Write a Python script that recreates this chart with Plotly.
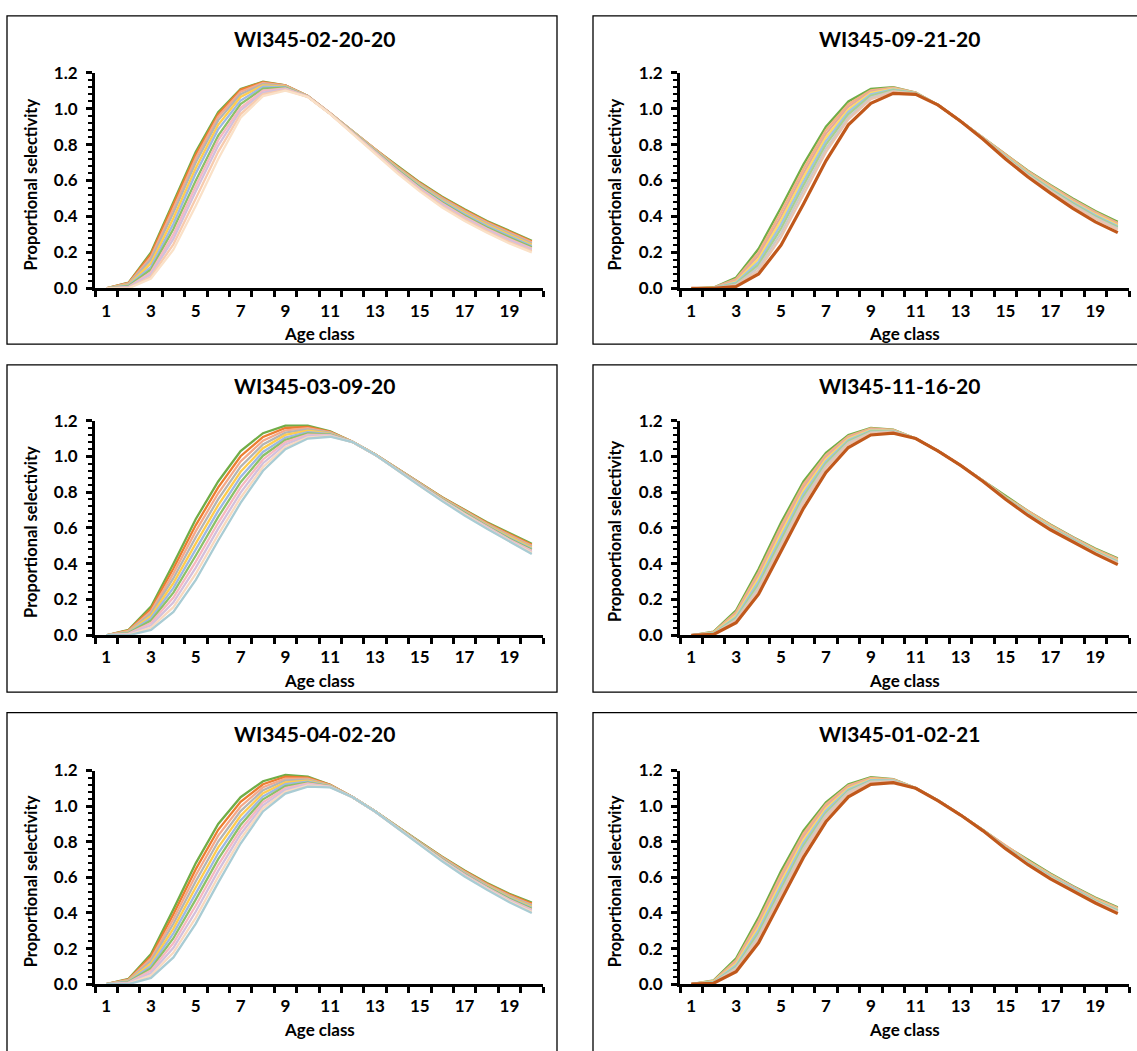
import plotly.graph_objects as go

W, H = 1137, 1051

AGES = list(range(1, 21))
XTICK_VALS = [1, 3, 5, 7, 9, 11, 13, 15, 17, 19]
XTICK_TEXT = ["1", "3", "5", "7", "9", "11", "13", "15", "17", "19"]

PANEL_TITLES = ["WI345-02-20-20", "WI345-09-21-20", "WI345-03-09-20",
                "WI345-11-16-20", "WI345-04-02-20", "WI345-01-02-21"]
Y_TITLES = ["Proportional selectivity", "Proportional selectivity", "Proportional selectivity",
            "Propoortional selectivity", "Proportional selectivity", "Proportional selectivity"]
X_TITLE = "Age class"

# ---- series values (top line of each fan first) ----
P1_LINES = [
    [0, .032, .200, .480, .760, .980, 1.110, 1.150, 1.130, 1.070, .975, .875, .775, .680, .590, .510, .440, .375, .320, .265],
    [0, .030, .190, .465, .745, .970, 1.105, 1.148, 1.130, 1.070, .975, .874, .773, .677, .587, .506, .436, .371, .316, .261],
    [0, .027, .175, .445, .725, .955, 1.095, 1.143, 1.128, 1.069, .974, .873, .771, .674, .583, .502, .431, .366, .311, .256],
    [0, .024, .160, .420, .700, .935, 1.080, 1.137, 1.126, 1.069, .974, .872, .769, .671, .579, .497, .425, .360, .305, .250],
    [0, .020, .140, .390, .670, .910, 1.065, 1.130, 1.123, 1.068, .973, .870, .767, .667, .574, .491, .419, .354, .298, .243],
    [0, .016, .120, .360, .640, .885, 1.045, 1.122, 1.120, 1.068, .973, .869, .764, .663, .569, .485, .412, .347, .291, .236],
    [0, .012, .105, .330, .600, .850, 1.025, 1.112, 1.117, 1.067, .972, .867, .761, .659, .563, .478, .404, .339, .283, .228],
    [0, .008, .090, .300, .570, .825, 1.005, 1.100, 1.113, 1.067, .972, .866, .758, .655, .558, .472, .397, .332, .275, .221],
    [0, .005, .078, .275, .540, .795, .990, 1.090, 1.108, 1.066, .971, .864, .754, .650, .552, .465, .390, .325, .267, .214],
    [0, .002, .065, .245, .500, .760, .970, 1.080, 1.104, 1.066, .971, .862, .750, .645, .546, .457, .383, .317, .258, .207],
    [0, .000, .055, .215, .460, .720, .950, 1.070, 1.100, 1.065, .970, .860, .745, .640, .540, .450, .375, .310, .250, .200],
]
P2_LINES = [
    [0, .005, .060, .220, .450, .690, .900, 1.040, 1.110, 1.120, 1.090, 1.020, .930, .840, .745, .655, .575, .500, .430, .370],
    [0, .004, .052, .200, .425, .665, .880, 1.025, 1.102, 1.117, 1.089, 1.020, .930, .839, .743, .652, .571, .495, .425, .364],
    [0, .003, .045, .182, .400, .640, .860, 1.010, 1.095, 1.114, 1.088, 1.020, .930, .838, .740, .648, .566, .490, .419, .358],
    [0, .002, .038, .165, .378, .618, .840, .995, 1.088, 1.111, 1.087, 1.020, .930, .837, .737, .644, .561, .484, .413, .352],
    [0, .002, .032, .148, .355, .595, .820, .982, 1.080, 1.107, 1.086, 1.020, .930, .836, .734, .640, .556, .478, .407, .346],
    [0, .001, .026, .132, .332, .572, .800, .968, 1.072, 1.103, 1.085, 1.020, .930, .835, .731, .636, .551, .472, .400, .340],
    [0, .001, .021, .116, .308, .548, .778, .952, 1.062, 1.098, 1.083, 1.020, .930, .834, .728, .631, .545, .465, .393, .333],
    [0, .000, .016, .100, .285, .525, .758, .940, 1.053, 1.094, 1.082, 1.020, .930, .833, .726, .627, .540, .459, .387, .327],
    [0, .000, .010, .080, .240, .470, .710, .910, 1.030, 1.085, 1.080, 1.020, .930, .830, .720, .620, .530, .445, .370, .310],
]
P3_LINES = [
    [0, .030, .160, .400, .650, .860, 1.030, 1.130, 1.172, 1.172, 1.140, 1.082, 1.012, .932, .852, .772, .702, .632, .572, .512],
    [0, .027, .147, .373, .616, .827, 1.001, 1.109, 1.159, 1.165, 1.137, 1.082, 1.012, .931, .850, .770, .699, .628, .566, .506],
    [0, .024, .134, .346, .582, .794, .972, 1.088, 1.146, 1.158, 1.134, 1.082, 1.012, .930, .849, .768, .696, .624, .561, .500],
    [0, .021, .121, .319, .548, .761, .943, 1.067, 1.133, 1.151, 1.131, 1.081, 1.011, .928, .847, .766, .692, .620, .555, .495],
    [0, .018, .108, .292, .514, .728, .914, 1.046, 1.120, 1.144, 1.128, 1.081, 1.011, .927, .846, .763, .689, .617, .550, .489],
    [0, .015, .095, .265, .480, .695, .885, 1.025, 1.106, 1.136, 1.125, 1.081, 1.011, .926, .844, .761, .686, .613, .544, .483],
    [0, .012, .082, .238, .446, .662, .856, 1.004, 1.093, 1.129, 1.122, 1.080, 1.011, .925, .842, .759, .683, .610, .539, .478],
    [0, .009, .069, .211, .412, .629, .827, .983, 1.080, 1.122, 1.119, 1.080, 1.010, .924, .840, .757, .680, .606, .534, .472],
    [0, .006, .056, .184, .378, .596, .798, .962, 1.067, 1.115, 1.116, 1.080, 1.010, .922, .838, .755, .676, .602, .530, .466],
    [0, .003, .043, .157, .344, .563, .769, .941, 1.053, 1.107, 1.113, 1.080, 1.010, .921, .836, .752, .673, .598, .527, .461],
    [0, .000, .030, .130, .310, .530, .740, .920, 1.040, 1.100, 1.110, 1.080, 1.010, .920, .835, .750, .670, .595, .525, .455],
]
P4_LINES = [
    [0, .020, .140, .370, .630, .860, 1.020, 1.120, 1.160, 1.150, 1.100, 1.030, .950, .865, .775, .695, .620, .550, .485, .430],
    [0, .018, .130, .352, .610, .843, 1.008, 1.113, 1.156, 1.148, 1.100, 1.030, .950, .864, .773, .692, .616, .546, .481, .426],
    [0, .016, .121, .335, .590, .826, .996, 1.106, 1.152, 1.146, 1.100, 1.030, .950, .864, .771, .689, .613, .543, .477, .422],
    [0, .014, .112, .318, .570, .809, .984, 1.099, 1.148, 1.144, 1.100, 1.030, .950, .863, .769, .686, .610, .539, .474, .418],
    [0, .012, .103, .301, .550, .792, .972, 1.092, 1.144, 1.142, 1.100, 1.030, .950, .863, .768, .683, .606, .536, .470, .414],
    [0, .010, .095, .285, .531, .775, .960, 1.085, 1.140, 1.140, 1.100, 1.030, .950, .862, .766, .680, .603, .532, .467, .410],
    [0, .008, .087, .268, .512, .758, .948, 1.077, 1.135, 1.138, 1.100, 1.030, .950, .862, .764, .677, .600, .529, .463, .406],
    [0, .007, .080, .252, .495, .740, .935, 1.068, 1.130, 1.136, 1.100, 1.030, .950, .861, .762, .674, .596, .525, .460, .402],
    [0, .005, .070, .230, .470, .710, .910, 1.050, 1.120, 1.130, 1.100, 1.030, .950, .860, .760, .670, .590, .520, .455, .395],
]
P5_LINES = [
    [0, .030, .170, .420, .680, .900, 1.050, 1.140, 1.175, 1.165, 1.120, 1.051, .972, .884, .800, .716, .638, .568, .508, .458],
    [0, .027, .157, .393, .646, .867, 1.024, 1.123, 1.165, 1.160, 1.119, 1.051, .972, .883, .798, .713, .635, .564, .503, .452],
    [0, .024, .143, .366, .612, .834, .998, 1.106, 1.154, 1.154, 1.117, 1.051, .971, .882, .796, .711, .631, .560, .498, .446],
    [0, .021, .130, .339, .578, .801, .972, 1.089, 1.144, 1.149, 1.116, 1.051, .971, .881, .794, .708, .628, .556, .493, .441],
    [0, .018, .116, .312, .544, .768, .946, 1.072, 1.133, 1.143, 1.114, 1.050, .971, .880, .792, .705, .625, .552, .488, .435],
    [0, .015, .103, .285, .510, .735, .920, 1.055, 1.123, 1.138, 1.113, 1.050, .971, .879, .790, .703, .622, .549, .484, .429],
    [0, .012, .089, .258, .476, .702, .894, 1.038, 1.112, 1.132, 1.111, 1.050, .971, .879, .788, .700, .618, .545, .479, .423],
    [0, .009, .076, .231, .442, .669, .868, 1.021, 1.102, 1.127, 1.110, 1.050, .970, .878, .786, .698, .615, .541, .474, .417],
    [0, .006, .062, .204, .408, .636, .842, 1.004, 1.091, 1.121, 1.108, 1.050, .970, .877, .784, .695, .611, .537, .470, .412],
    [0, .003, .049, .177, .374, .603, .816, .987, 1.081, 1.116, 1.107, 1.050, .970, .876, .782, .693, .608, .534, .465, .406],
    [0, .000, .035, .150, .340, .570, .790, .970, 1.070, 1.110, 1.105, 1.050, .970, .875, .780, .690, .605, .530, .460, .400],
]
P6_LINES = [
    [0, .021, .145, .375, .635, .862, 1.022, 1.122, 1.162, 1.152, 1.102, 1.032, .951, .866, .776, .696, .621, .551, .486, .432],
    [0, .019, .134, .356, .614, .845, 1.010, 1.115, 1.158, 1.150, 1.102, 1.032, .951, .865, .774, .693, .617, .547, .482, .428],
    [0, .017, .124, .338, .594, .828, .998, 1.108, 1.154, 1.148, 1.101, 1.031, .951, .865, .772, .690, .614, .544, .478, .424],
    [0, .015, .115, .321, .574, .811, .986, 1.101, 1.150, 1.146, 1.101, 1.031, .950, .864, .770, .687, .611, .540, .475, .420],
    [0, .013, .106, .304, .554, .794, .974, 1.094, 1.146, 1.144, 1.101, 1.031, .950, .864, .769, .684, .607, .537, .471, .416],
    [0, .011, .097, .288, .535, .777, .962, 1.087, 1.142, 1.142, 1.100, 1.030, .950, .863, .767, .681, .604, .533, .468, .412],
    [0, .009, .089, .271, .516, .760, .950, 1.079, 1.137, 1.140, 1.100, 1.030, .950, .863, .765, .678, .601, .530, .464, .408],
    [0, .007, .081, .254, .498, .742, .937, 1.070, 1.132, 1.138, 1.100, 1.030, .950, .862, .763, .675, .597, .526, .461, .404],
    [0, .005, .070, .232, .472, .712, .912, 1.052, 1.122, 1.132, 1.100, 1.030, .950, .861, .761, .671, .591, .521, .456, .396],
]
PANELS = [P1_LINES, P2_LINES, P3_LINES, P4_LINES, P5_LINES, P6_LINES]

# ---- styles ----
LEFT_COLORS_A = ["#70AD47", "#ED7D31", "#F4A98A", "#B4B4B4", "#FFCC4D", "#9DB8E3",
                 "#8CC168", "#F6B8C0", "#D3C0DC", "#F8CBAD", "#FAE1C8"]
LEFT_COLORS_B = ["#70AD47", "#ED7D31", "#F4A98A", "#B4B4B4", "#FFCC4D", "#9DB8E3",
                 "#8CC168", "#F6B8C0", "#D3C0DC", "#FAD9BE", "#A9CCD4"]
RIGHT_COLORS = ["#70AD47", "#F4B183", "#E2A9A0", "#FFD966", "#9DC3E6", "#A9D18E",
                "#C9C9C9", "#E8C4B0", "#C0581B"]
PANEL_COLORS = [LEFT_COLORS_A, RIGHT_COLORS, LEFT_COLORS_B, RIGHT_COLORS, LEFT_COLORS_B, RIGHT_COLORS]

FONT = "Lato, 'Open Sans', sans-serif"
COL_X = [(95, 543), (680, 1129)]
ROW_Y = [(63, 283), (418, 637), (775, 993)]
BOX_X = [(7, 557), (593, 1160)]
BOX_Y = [(5, 340), (361, 695), (716, 1070)]
TITLE_Y = [28, 382, 737]
YT_X = [31, 615]


def px(x):
    return x / W


def py(y):
    return 1 - y / H


fig = go.Figure()
layout = dict(width=W, height=H, margin=dict(l=0, r=0, t=0, b=0),
              paper_bgcolor="white", plot_bgcolor="white", showlegend=False,
              font=dict(family=FONT, color="black"))
shapes, annotations = [], []

for k, lines in enumerate(PANELS):
    r, c = divmod(k, 2)
    n = k + 1
    sx = "" if n == 1 else str(n)
    colors = PANEL_COLORS[k]
    for i, vals in enumerate(lines):
        last = (c == 1 and i == len(lines) - 1)
        fig.add_trace(go.Scatter(x=AGES, y=vals, mode="lines",
                                 line=dict(color=colors[i], width=3.2 if last else 2.3),
                                 xaxis="x" + sx, yaxis="y" + sx, hoverinfo="skip"))
    x0, x1 = COL_X[c]
    y0, y1 = ROW_Y[r]
    layout["xaxis" + sx] = dict(
        domain=[px(x0), px(x1)], range=[0.5, 20.5], anchor="y" + sx,
        tickmode="array", tickvals=XTICK_VALS, ticktext=XTICK_TEXT, ticks="",
        ticklabelstandoff=5,
        showline=True, linecolor="black", linewidth=2.6, showgrid=False, zeroline=False,
        tickfont=dict(family=FONT, size=17, color="black", weight="bold"),
        minor=dict(tickmode="linear", tick0=0.5, dtick=1, ticks="outside",
                   ticklen=6, tickwidth=2.6, tickcolor="black", showgrid=False),
        fixedrange=True)
    layout["yaxis" + sx] = dict(
        domain=[py(y1), py(y0)], range=[0, 1.2], anchor="x" + sx,
        tickmode="linear", tick0=0, dtick=0.2, tickformat=".1f",
        ticks="outside", ticklen=6, tickwidth=2.6, tickcolor="black",
        ticklabelstandoff=5,
        showline=True, linecolor="black", linewidth=3, showgrid=False, zeroline=False,
        tickfont=dict(family=FONT, size=17, color="black", weight="bold"),
        minor=dict(tickmode="linear", tick0=0, dtick=0.04, ticks="outside",
                   ticklen=4, tickwidth=2, tickcolor="black", showgrid=False),
        fixedrange=True)
    bx0, bx1 = BOX_X[c]
    by0, by1 = BOX_Y[r]
    shapes.append(dict(type="rect", xref="paper", yref="paper",
                       x0=px(bx0), x1=px(bx1), y0=py(by1), y1=py(by0),
                       line=dict(color="black", width=1.3), fillcolor="rgba(0,0,0,0)",
                       layer="below"))
    annotations.append(dict(text=PANEL_TITLES[k], xref="paper", yref="paper",
                            x=px((x0 + x1) / 2 - 5), y=py(TITLE_Y[r]), xanchor="center",
                            yanchor="middle", showarrow=False,
                            font=dict(family=FONT, size=21, color="black", weight="bold")))
    annotations.append(dict(text=X_TITLE, xref="paper", yref="paper",
                            x=px((x0 + x1) / 2), y=py(y1 + 46), xanchor="center",
                            yanchor="middle", showarrow=False,
                            font=dict(family=FONT, size=17, color="black", weight="bold")))
    annotations.append(dict(text=Y_TITLES[k], xref="paper", yref="paper",
                            x=px(YT_X[c]), y=py((y0 + y1) / 2 + 4), xanchor="center",
                            yanchor="middle", showarrow=False, textangle=-90,
                            font=dict(family=FONT, size=16.5, color="black", weight="bold")))

layout["shapes"] = shapes
layout["annotations"] = annotations
fig.update_layout(**layout)
fig.write_html("out.html")
